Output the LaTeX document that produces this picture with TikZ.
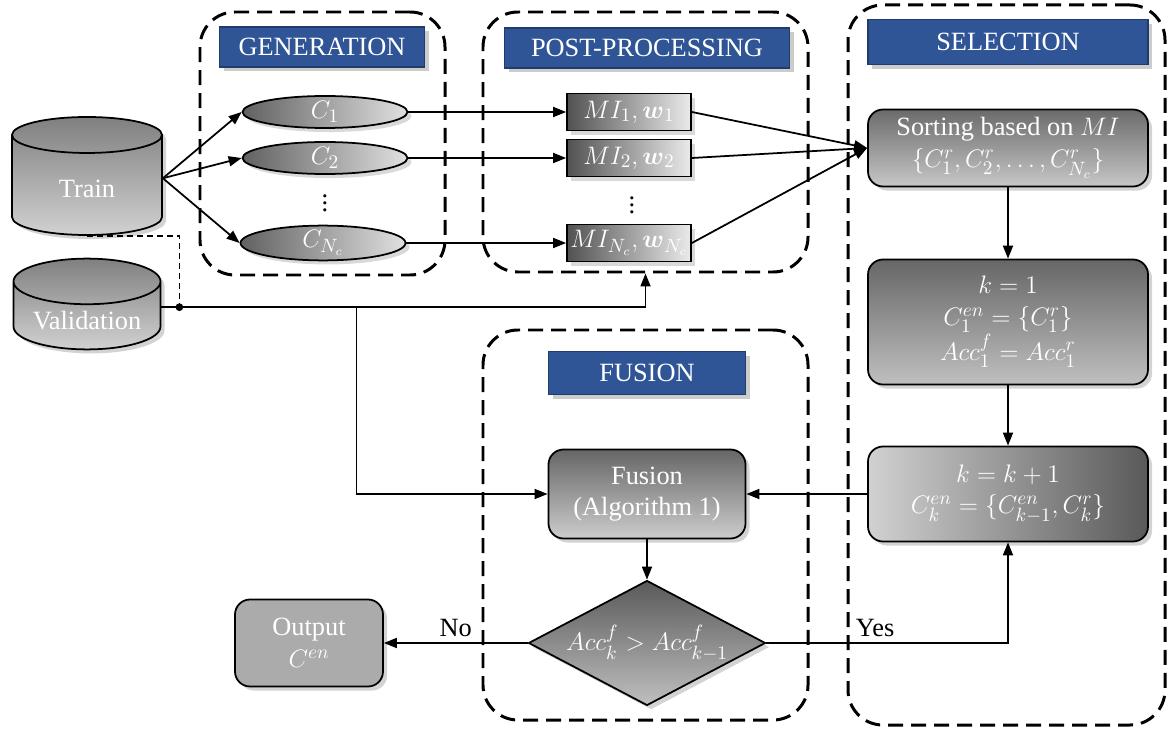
\documentclass[tikz,border=0pt]{standalone}
\usepackage{fontspec}
\setmainfont{Liberation Serif}
\usepackage{amsmath}
\usetikzlibrary{shapes.geometric,arrows.meta,shadows}
\definecolor{titleblue}{RGB}{47,85,151}

\begin{document}
\begin{tikzpicture}[x=0.2mm,y=-0.2mm,
  font=\fontsize{15}{18}\selectfont,
  >={Triangle[length=2.6mm,width=2mm]},
  line width=1pt,
  stage/.style={draw, line width=1.7pt, dash pattern=on 3mm off 1.6mm,
    rounded corners=7mm, inner sep=0},
  stagetitle/.style={fill=titleblue, draw=titleblue!70!black, text=white,
    minimum height=8mm, drop shadow={opacity=0.4}},
  db/.style={cylinder, shape border rotate=90, draw, top color=black!50,
    bottom color=black!18, text=white, anchor=shape center,
    drop shadow={opacity=0.35}},
  clf/.style={ellipse, draw, left color=black!62, right color=black!12,
    text=white, minimum width=33mm, minimum height=6.4mm, inner sep=0,
    drop shadow={opacity=0.3}},
  mibox/.style={rectangle, draw, left color=black!68, right color=black!8,
    text=white, minimum width=24.8mm, minimum height=7.4mm, inner sep=0,
    drop shadow={opacity=0.3}},
  proc/.style={rectangle, rounded corners=3mm, draw, text=white,
    align=center, minimum width=56mm, drop shadow={opacity=0.35}}]
  \useasboundingbox (0,0) rectangle (1169,733);

  % stages
  \node[stage, minimum width=49mm, minimum height=52.6mm] (gen) at (322.5,143.5) {};
  \node[stage, minimum width=65mm, minimum height=52mm] (post) at (645.5,142) {};
  \node[stage, minimum width=63.4mm, minimum height=144mm] (sel) at (1006.5,365) {};
  \node[stage, minimum width=65mm, minimum height=78mm] (fus) at (645.5,525) {};

  \node[stagetitle, minimum width=41mm] (gentitle) at (322,47) {GENERATION};
  \node[stagetitle, minimum width=57mm] (posttitle) at (647,48) {POST-PROCESSING};
  \node[stagetitle, minimum width=56mm, minimum height=9mm] (seltitle) at (1008,42) {SELECTION};
  \node[stagetitle, minimum width=39.4mm, minimum height=8.6mm] (fustitle) at (647,373) {FUSION};

  % data
  \node[db, aspect=0.53, minimum width=30mm, minimum height=23.6mm] (train) at (87,176) {Train};
  \node[db, aspect=0.38, minimum width=29.4mm, minimum height=16.4mm] (val) at (87,304) {Validation};

  % classifiers
  \node[clf] (c1) at (325,112) {$C_1$};
  \node[clf] (c2) at (325,158) {$C_2$};
  \node[inner sep=0] (cdots) at (325,198) {$\vdots$};
  \node[clf] (cn) at (323,243) {$C_{N_c}$};

  \node[mibox] (mi1) at (629,112) {$MI_1,\boldsymbol{w}_1$};
  \node[mibox] (mi2) at (629,158) {$MI_2,\boldsymbol{w}_2$};
  \node[inner sep=0] (midots) at (632,200) {$\vdots$};
  \node[mibox] (min) at (629,243) {$MI_{N_c},\boldsymbol{w}_{N_c}$};

  \node[proc, top color=black!58, bottom color=black!22, minimum height=15.4mm] (sort) at (1008,148)
    {Sorting based on $MI$\\ $\{C_1^r, C_2^r, \dots, C_{N_c}^r\}$};
  \node[proc, top color=black!60, bottom color=black!25, minimum height=25mm] (init) at (1008,322)
    {$k=1$\\ $C_1^{en}=\{C_1^r\}$\\ $Acc_1^f=Acc_1^r$};
  \node[proc, left color=black!18, right color=black!65, minimum height=19mm] (incr) at (1008,494)
    {$k=k+1$\\ $C_k^{en}=\{C_{k-1}^{en},C_k^r\}$};
  \node[proc, top color=black!60, bottom color=black!20, minimum width=39.4mm,
    minimum height=17.8mm] (fuse) at (647,494) {Fusion\\ (Algorithm 1)};
  \node[diamond, draw, aspect=1.9, inner sep=0, minimum width=47.4mm, minimum height=25mm,
    top color=black!65, bottom color=black!25, text=white, drop shadow={opacity=0.35}]
    (check) at (647,643) {$Acc_k^f > Acc_{k-1}^f$};
  \node[proc, fill=black!33, minimum width=29.6mm, minimum height=17.4mm] (out) at (309,643)
    {Output\\ $C^{en}$};

  % connectors
  \foreach \c in {c1,c2,cn}
    \draw[->] (train.8) -- (\c.west);
  \foreach \a/\b in {c1/mi1,c2/mi2,cn/min}
    \draw[->] (\a.east) -- (\b.west);
  \foreach \m in {mi1,mi2,min}
    \draw[->] (\m.east) -- (sort.west);
  \draw[->] (sort) -- (init);
  \draw[->] (init) -- (incr);
  \draw[->] (incr) -- (fuse);
  \draw[->] (fuse) -- (check);
  \draw[->] (check.east) -| node[pos=0.225, above] {Yes} (incr.south);
  \draw[->] (check.west) -- node[above] {No} (out.east);

  % validation feed
  \path (val.10) ++(18,0) coordinate (vjoin) ++(177,0) coordinate (vsplit);
  \draw[->] (val.10) -| (post.south);
  \draw[->] (vsplit) |- (fuse.west);
  \draw[dash pattern=on 1.2mm off 0.8mm] (train.south) -| (vjoin);
  \fill (vjoin) circle (2.2pt);
\end{tikzpicture}
\end{document}
